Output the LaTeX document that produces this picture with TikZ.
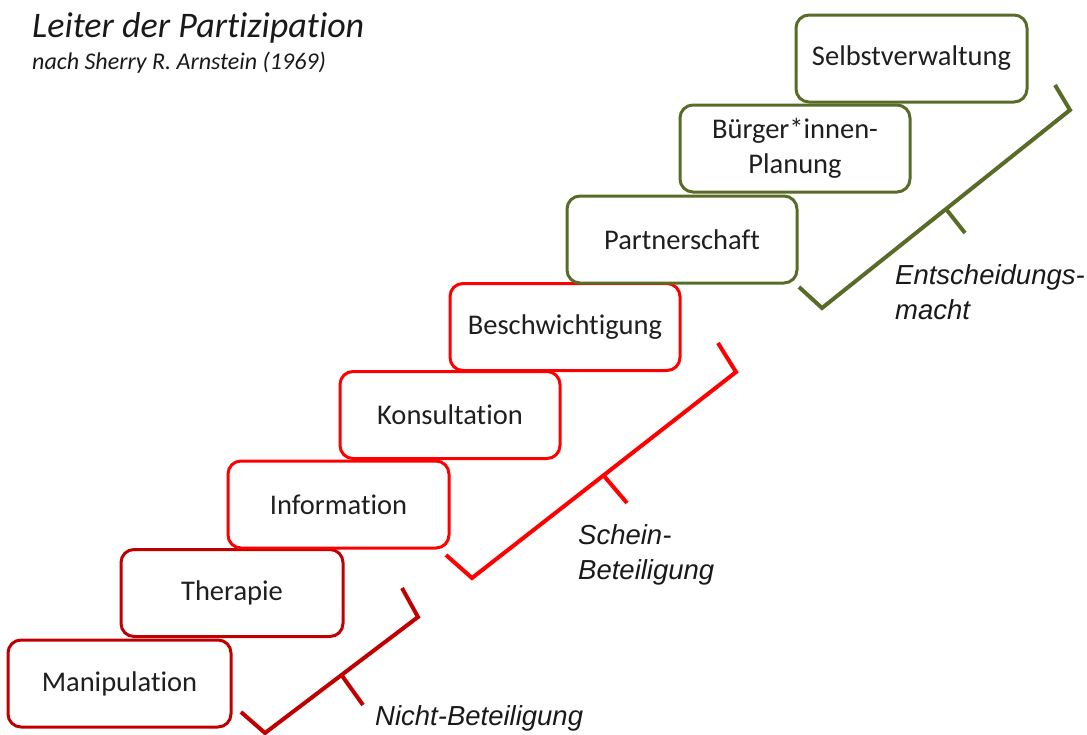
\documentclass[tikz,border=0pt]{standalone}
\usepackage{fontspec}
\setmainfont{Carlito}[Ligatures=NoCommon]
\newfontfamily\arialfont{Liberation Sans}
\definecolor{dred}{RGB}{192,0,0}
\definecolor{bred}{RGB}{255,0,0}
\definecolor{mygreen}{RGB}{88,108,40}
\begin{document}
\begin{tikzpicture}[x=1pt,y=-1pt,
  stepbox/.style={draw, rounded corners=13pt, line width=3pt, fill=white,
    minimum height=87pt, inner sep=0pt, align=center,
    font=\fontsize{28.5}{35}\selectfont, text=black!88},
  brace/.style={line width=4pt, line join=miter},
  lbl/.style={font=\arialfont\itshape\fontsize{27.5}{35}\selectfont,
    align=left, inner sep=0pt, anchor=west, text=black!90}]
\useasboundingbox (0,0) rectangle (1087,734);

% title
\node[anchor=base west, inner sep=0pt, font=\itshape\fontsize{36}{42}\selectfont, text=black!90] (title) at (32,37) {Leiter der Partizipation};
\node[anchor=base west, inner sep=0pt, font=\itshape\fontsize{24}{28}\selectfont, text=black!90] (sub) at (32,69) {nach Sherry R. Arnstein (1969)};

% steps
\node[stepbox, draw=dred, minimum width=223pt] (manip) at (119.5,683.5) {Manipulation};
\node[stepbox, draw=dred, minimum width=222pt] (thera) at (232,593) {Therapie};
\node[stepbox, draw=bred, minimum width=221pt] (info) at (338.5,504.5) {Information};
\node[stepbox, draw=bred, minimum width=220pt] (kons) at (450,415) {Konsultation};
\node[stepbox, draw=bred, minimum width=230pt] (besch) at (565,327) {Beschwichtigung};
\node[stepbox, draw=mygreen, minimum width=230pt] (partner) at (682,239.5) {Partnerschaft};
\node[stepbox, draw=mygreen, minimum width=230pt] (buerger) at (795,148.5) {Bürger*innen-\\Planung};
\node[stepbox, draw=mygreen, minimum width=231pt] (selbst) at (911.5,58.5) {Selbstverwaltung};

% brace: Nicht-Beteiligung
\coordinate (n1) at (241,712);
\coordinate (n2) at (265,733);
\coordinate (n3) at (418,617);
\coordinate (n4) at (402,588);
\coordinate (nm) at (341.5,675);
\coordinate (nt) at (363,705);
\draw[brace, draw=dred] (n1) -- (n2) -- (n3) -- (n4);
\draw[brace, draw=dred] (nm) -- (nt);

% brace: Schein-Beteiligung
\coordinate (s1) at (446,555);
\coordinate (s2) at (472,578);
\coordinate (s3) at (736,372);
\coordinate (s4) at (718,343);
\coordinate (sm) at (604,476);
\coordinate (st) at (627,503);
\draw[brace, draw=bred] (s1) -- (s2) -- (s3) -- (s4);
\draw[brace, draw=bred] (sm) -- (st);

% brace: Entscheidungsmacht
\coordinate (e1) at (799,287);
\coordinate (e2) at (822,308);
\coordinate (e3) at (1070,110);
\coordinate (e4) at (1055,85);
\coordinate (em) at (946,209);
\coordinate (et) at (965,233);
\draw[brace, draw=mygreen] (e1) -- (e2) -- (e3) -- (e4);
\draw[brace, draw=mygreen] (em) -- (et);

% labels
\node[lbl] (nicht) at (375,718) {Nicht-Beteiligung};
\node[lbl] (schein) at (578,554.5) {Schein-\\Beteiligung};
\node[lbl] (entsch) at (895,292) {Entscheidungs-\\macht};
\end{tikzpicture}
\end{document}
